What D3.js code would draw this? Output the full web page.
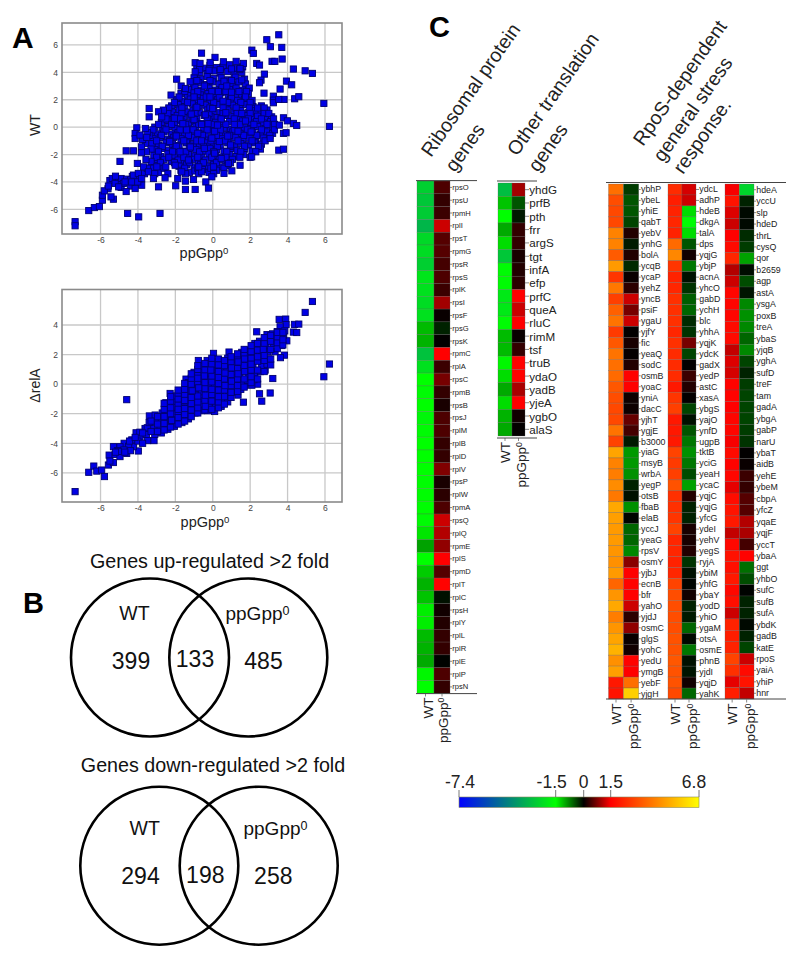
<!DOCTYPE html>
<html><head><meta charset="utf-8">
<script src="https://cdn.jsdelivr.net/npm/d3@7"></script>
<style>html,body{margin:0;padding:0;background:#fff}svg{display:block}text{font-family:"Liberation Sans",Arial,sans-serif}</style>
</head><body><svg id="c" width="800" height="956"></svg>
<script>
// ---------- Panel A scatter data: [ppGpp0, WT] ----------
const wtOutliers=[[-7.36,-6.9],[-7.36,-7.2],[-6.63,-6.09],[-6.33,-5.87],[-6.06,-5.8],[-4.55,-6.3],[-3.96,-6.55],[-2.82,-6.3],[-5.9,-5.33],[-5.9,-4.97],[-5.31,-5.26],[-5.44,-5.09],[-5.8,-4.65],[-5.58,-4.3],[-5.37,-3.75],[-5.2,-3.58],[-5.22,-4.11],[-4.96,-2.5],[-4.63,-1.73],[-4.24,-1.73],[-3.81,-1.44],[-3.81,-1.87],[-4.03,-2.65],[-4.63,-4.7],[-4.78,-4.11],[-4.15,-4.48],[-3.8,-4.24],[-4.24,-3.5],[-3.98,-3.38],[-4.33,-4],[-5.03,-4.36],[-4.69,-4],[-4.01,-4],[-3.8,-3.75],[-3.57,-2.36],[-3.4,1.36],[-3.4,.75],[-4.06,-.05],[-4.15,-.46],[-4.15,-.83],[-3.89,-.58],[-3.6,-.1],[-3.53,-.75],[-3.17,-3.75],[-2.9,-4.36],[-2.55,-3.7],[-1.98,-4.28],[-1.87,-3.75],[-1.46,-3.94],[-1.46,-4.55],[-.94,-4.55],[-1.03,-3.82],[-.37,-4],[-.23,-4.45],[-.05,-3.63],[.6,-3.38],[1.02,-3.19],[1.46,-2.78],[2.08,-2.17],[-3.44,-3.26],[-2.99,-2.9],[-2.51,-2.9],[-2.01,-2.78],[-1.66,-3.26],[-.59,-3.26],[.04,-2.9],[.84,-2.65],[3.53,6.74],[2.89,6.38],[3.08,5.87],[3.69,5.82],[3.71,4.97],[2.09,5.62],[2.17,5.38],[2.35,4.65],[2.5,4.53],[3.17,4.8],[3.32,4.8],[4.31,4.24],[4.94,4.11],[5.33,3.92],[2.76,3.87],[2.58,3.43],[2.5,3.24],[3.94,3.36],[4.22,3.09],[3.6,2.78],[2.74,2.48],[3.24,2.26],[3.24,1.97],[3.24,1.78],[3.81,2.02],[3.53,2.02],[4.38,2.07],[4.6,2.22],[5.94,1.73],[6.24,.05],[3.78,.68],[3.99,.46],[4.31,.27],[4.49,.12],[3.56,.15],[3.78,-.46],[3.92,-.41],[3.53,-1.68],[3.78,-1.61],[3.07,-.83],[-.6,5.4],[.12,5.09],[.57,4.77],[1.25,4.8],[1.64,4.65],[-.94,4.7],[-.68,4.65],[-.14,4.72],[1.46,4.28],[-.94,4.04],[-1.93,3.5],[-1.21,3.31],[-1.69,3],[-1.46,2.82],[-2.23,2.34],[-2.64,1.24],[-2.9,1.12],[-2.73,.75]];
const wtCore=[[-.85,4.45],[-.5,4.3],[-.15,4.5],[.2,4.35],[.55,4.4],[.9,4.55],[1.25,4.3],[1.6,4.4],
[-.7,4],[-.3,3.9],[.05,4.1],[.4,3.95],[.8,4.05],[1.15,3.85],[1.55,4],
[-1,3.6],[-.65,3.5],[-.3,3.7],[.05,3.55],[.45,3.6],[.8,3.45],[1.2,3.65],[1.7,3.5],
[-1.05,3.15],[-.75,3.25],[-.35,3.1],[0,3.3],[.35,3.15],[.7,3.2],[1.05,3.1],[1.4,3.3],[1.75,3.15],
[-1.3,2.75],[-.95,2.9],[-.6,2.7],[-.2,2.85],[.15,2.7],[.5,2.9],[.9,2.75],[1.25,2.85],[1.6,2.7],[1.95,2.85],
[-1.7,2.45],[-1.35,2.3],[-1,2.5],[-.65,2.35],[-.25,2.45],[.1,2.3],[.45,2.5],[.85,2.35],[1.2,2.4],[1.55,2.3],[1.9,2.45],
[-1.95,2],[-1.6,1.9],[-1.2,2.05],[-.85,1.9],[-.5,2.1],[-.15,1.95],[.25,2],[.6,1.85],[.95,2.05],[1.3,1.95],[1.7,2.05],[2.1,1.95],
[-2.2,1.55],[-1.85,1.65],[-1.5,1.5],[-1.1,1.7],[-.75,1.55],[-.4,1.6],[0,1.45],[.35,1.65],[.7,1.55],[1.05,1.6],[1.45,1.5],[1.8,1.65],[2.15,1.5],[2.6,1.55],
[-2.5,1.2],[-2.15,1.1],[-1.8,1.25],[-1.4,1.1],[-1.05,1.2],[-.7,1.05],[-.3,1.25],[.05,1.15],[.4,1.05],[.8,1.25],[1.15,1.1],[1.5,1.2],[1.9,1.05],[2.25,1.2],[2.6,1.1],[2.9,1.25],
[-2.6,.8],[-2.3,.7],[-1.9,.85],[-1.55,.7],[-1.2,.8],[-.85,.65],[-.45,.85],[-.1,.75],[.25,.7],[.65,.85],[1,.75],[1.35,.65],[1.7,.85],[2.05,.7],[2.4,.8],[2.8,.7],[3.15,.75],
[-2.75,.35],[-2.4,.45],[-2.05,.3],[-1.7,.45],[-1.3,.3],[-.95,.4],[-.6,.25],[-.2,.45],[.15,.35],[.5,.25],[.9,.4],[1.25,.3],[1.6,.45],[2,.3],[2.35,.4],[2.7,.3],[3.1,.4],
[-3.1,0],[-2.7,-.1],[-2.35,.05],[-2,-.1],[-1.6,0],[-1.25,-.15],[-.9,.05],[-.5,-.05],[-.15,-.15],[.2,.05],[.6,-.05],[.95,-.15],[1.3,.05],[1.7,-.05],[2.05,-.1],[2.4,.05],[2.8,-.1],[3.2,0],
[-3.3,-.4],[-2.95,-.5],[-2.6,-.35],[-2.2,-.5],[-1.85,-.4],[-1.5,-.55],[-1.1,-.35],[-.75,-.45],[-.4,-.55],[0,-.35],[.35,-.45],[.7,-.55],[1.05,-.35],[1.45,-.45],[1.8,-.55],[2.15,-.4],[2.55,-.5],[2.9,-.35],[3.2,-.45],
[-3.2,-.85],[-2.8,-.75],[-2.45,-.9],[-2.1,-.75],[-1.7,-.85],[-1.35,-.95],[-1,-.75],[-.6,-.85],[-.25,-.95],[.1,-.75],[.5,-.85],[.85,-.95],[1.2,-.75],[1.6,-.9],[1.95,-.8],[2.3,-.95],[2.7,-.8],
[-3.25,-1.2],[-2.9,-1.3],[-2.5,-1.15],[-2.15,-1.25],[-1.8,-1.35],[-1.4,-1.15],[-1.05,-1.25],[-.7,-1.35],[-.3,-1.15],[.05,-1.25],[.4,-1.35],[.8,-1.15],[1.15,-1.3],[1.5,-1.2],[1.9,-1.3],[2.25,-1.15],[2.6,-1.25],
[-3.1,-1.65],[-2.7,-1.55],[-2.35,-1.7],[-2,-1.6],[-1.6,-1.75],[-1.25,-1.55],[-.9,-1.65],[-.5,-1.75],[-.15,-1.55],[.2,-1.65],[.6,-1.75],[.95,-1.55],[1.3,-1.7],[1.7,-1.6],[2.1,-1.75],[2.55,-1.6],
[-3.15,-2.05],[-2.8,-2.15],[-2.4,-1.95],[-2.05,-2.1],[-1.7,-2.2],[-1.3,-2],[-.95,-2.1],[-.6,-2.2],[-.2,-1.95],[.15,-2.1],[.5,-2.2],[.9,-2],[1.25,-2.15],[1.65,-2],
[-2.95,-2.45],[-2.6,-2.35],[-2.2,-2.5],[-1.85,-2.4],[-1.5,-2.55],[-1.1,-2.35],[-.75,-2.5],[-.4,-2.4],[0,-2.55],[.35,-2.35],[.7,-2.45],[1.05,-2.35],
[-3.1,-2.8],[-2.75,-2.9],[-1.8,-2.85],[-1.4,-2.75],[-1,-2.9],[-.65,-2.75],[-.3,-2.85],[.05,-2.75],[.4,-2.9],[.8,-2.8],
[-3.3,-3.2],[-2.9,-3.3],[-1.7,-3.15],[-1.25,-3.3],[-.95,-3.2],[-.55,-3.1],[-.2,-3.3],[.2,-3.15]];
const wtFill=[[-.7,4.2],[-.2,4.15],[.4,4.2],[1,4.25],[1.45,4.2],[-.85,3.4],[-.15,3.4],[.6,3.35],[1,3.4],[1.55,3.45],
[-1.5,2.6],[-.8,2.6],[-.05,2.6],[.7,2.6],[1.4,2.6],[1.8,2.6],[-1.8,2.2],[-1,2.2],[-.35,2.2],[.35,2.2],[1,2.2],[1.75,2.2],
[-2.05,1.8],[-1.35,1.8],[-.65,1.8],[.05,1.8],[.8,1.8],[1.5,1.8],[2,1.8],[-2.35,1.4],[-1.65,1.4],[-.9,1.4],[-.15,1.4],[.55,1.4],[1.25,1.4],[1.95,1.4],[2.4,1.4],[2.75,1.4],
[-2.4,1],[-1.65,1],[-.95,1],[-.2,1],[.55,1],[1.3,1],[2,1],[2.75,1],[3,1],[-2.5,.6],[-1.75,.6],[-1.05,.6],[-.3,.6],[.45,.6],[1.15,.6],[1.9,.6],[2.6,.6],[3.25,.6],
[-2.9,.2],[-2.2,.2],[-1.45,.2],[-.75,.2],[.05,.2],[.7,.2],[1.45,.2],[2.2,.2],[2.9,.2],[3.3,.2],[-3.2,-.2],[-2.5,-.2],[-1.75,-.2],[-1.05,-.2],[-.3,-.2],[.4,-.2],[1.15,-.2],[1.85,-.2],[2.6,-.2],[3.3,-.2],
[-3.4,-.6],[-2.75,-.6],[-2,-.6],[-1.3,-.6],[-.55,-.6],[.2,-.6],[.9,-.6],[1.65,-.6],[2.35,-.6],[3.05,-.6],[-3,-1],[-2.3,-1],[-1.55,-1],[-.85,-1],[-.1,-1],[.65,-1],[1.35,-1],[2.1,-1],[2.8,-1],
[-2.7,-1.4],[-1.95,-1.4],[-1.2,-1.4],[-.5,-1.4],[.25,-1.4],[.95,-1.4],[1.7,-1.4],[2.45,-1.4],[-2.9,-1.8],[-2.15,-1.8],[-1.45,-1.8],[-.7,-1.8],[.05,-1.8],[.75,-1.8],[1.5,-1.8],[2.3,-1.8],
[-3,-2.2],[-2.35,-2.2],[-1.55,-2.2],[-.8,-2.2],[-.05,-2.2],[.7,-2.2],[1.45,-2.2],[2,-2.2],[-2.8,-2.6],[-2.05,-2.6],[-1.25,-2.6],[-.5,-2.6],[.2,-2.6],[.95,-2.6],[-3.3,-3],[-2.6,-3],[-1.5,-3],[-.8,-3],[-.1,-3],[.6,-3],[-3.1,-3.4],[-2.4,-3.4],[-1.45,-3.4],[-.75,-3.4],[.05,-3.4],
[-5.1,-3.9],[-4.9,-3.75],[-4.6,-3.8],[-4.4,-4.3],[-4.3,-3.6],[-4.1,-3.7],[-3.65,-3.4],[-3.5,-3],[-3.7,-2.9],[-5.6,-4.5],[-5.5,-3.9],[-4.9,-4.4],[-4.4,-3.85],[-3.9,-3.95],[-3.6,-1.2],[-3.5,-.4],[-3.75,-.9],[-3.3,-1.6],[-3.55,-1.8],[-3.3,-2.5]];
const wtDark=[[-1.4,-.2],[-1,.55],[-.6,-1],[-.25,.25],[.1,-.3],[.45,.6],[.8,-.65],[1.15,.2],[-.8,-.45],[-.4,.9],[0,1.35],[.35,-1.05],[.7,1.05],[-1.2,-1.45],[-.85,1.45],[-.45,-1.55],[.1,-1.9],[.55,1.9],[.95,-1.3],[1.35,-.3],[-1.6,.25],[-1.95,-.65],[-2.3,-1.05],[-1.15,.95],[-.15,2.2],[.3,2.6],[.75,3],[-.45,3],[1,2.55],[-.05,-.8],[.25,.15],[-.6,.2],[-1.75,-1.8],[-1.3,-2.4],[-.75,-2.9],[.45,-2.3],[1.75,.45],[2.05,-.35],[1.55,1],[-2.05,.65]];

// ---------- Panel A scatter data: [ppGpp0, relA] ----------
const relOutliers=[[-7.36,-7.27],[-6.63,-5.96],[-6.36,-5.54],[-6.2,-5.88],[-5.94,-5.81],[-5.79,-6.25],[-4.6,-1.05],[-5.58,-5.47],[-5.31,-5.3],[-5.54,-4.8],[-5.31,-4.23],[-5.22,-4.75],[-4.96,-4.9],[-4.74,-4],[-4.6,-4.68],[-4.96,-4.23],[-3.98,-4.52],[-4.1,-3.29],[-4.24,-4.23],[-4.33,-3.77],[-3.89,-3.56],[-3.62,-3],[-3.49,-3.82],[-3.14,-3.82],[-3.39,-2.15],[-3.08,-2.09],[-2.28,-.63],[-2.51,-1.26],[-1.43,.34],[-.77,1.6],[.04,2.08],[.87,2.17],[2.35,3.54],[4.94,4.85],[5.33,5.59],[3.55,4.38],[3.9,4.4],[4.31,3.52],[4.37,4.04],[4.6,4.06],[4.49,3.49],[3.92,4.03],[3.6,3.88],[6.24,1.36],[5.94,.5],[3.21,.38],[3.07,-.6],[2.62,-1.15],[2.5,-.65],[1.64,-1.22],[1.35,-.74],[3.83,1.96],[3.62,1.79],[3.69,2.61],[3.96,2.93],[3.78,3.31],[3.33,2.19],[2.98,1.7],[2.8,.95],[2.4,0],[2.09,-.07],[1.73,-.07],[1.02,-.52]];
const relCore=[[-4.5,-4.2],[-4.45,-3.85],[-4,-3.85],[-3.9,-3.25],[-3.55,-3.4],[-3.5,-2.95],[-3.4,-2.6],
[-3.1,-3.4],[-3.15,-3],[-3.05,-2.55],[-2.75,-3.3],[-2.8,-2.85],[-2.75,-2.4],[-2.7,-1.95],[-2.4,-3.05],[-2.45,-2.65],[-2.35,-2.2],[-2.4,-1.8],[-2.45,-1.4],
[-2.05,-2.85],[-2,-2.4],[-2.1,-2],[-2,-1.55],[-2.05,-1.15],[-1.95,-.8],[-1.65,-2.6],[-1.7,-2.2],[-1.6,-1.8],[-1.65,-1.35],[-1.7,-.95],[-1.6,-.5],[-1.3,-2.35],[-1.35,-1.95],[-1.25,-1.5],[-1.3,-1.1],[-1.35,-.65],[-1.25,-.25],[-1.3,.1],
[-.95,-1.95],[-1,-1.5],[-.9,-1.1],[-.95,-.7],[-1,-.25],[-.9,.2],[-.95,.6],[-1,.8],[-.6,-1.8],[-.55,-1.35],[-.65,-.95],[-.6,-.5],[-.55,-.1],[-.65,.35],[-.6,.8],[-.5,1.2],
[-.25,-1.8],[-.2,-1.4],[-.3,-.95],[-.2,-.55],[-.25,-.1],[-.3,.3],[-.2,.75],[-.25,1.2],[-.3,1.6],[.1,-1.85],[.15,-1.4],[.05,-1],[.15,-.6],[.1,-.15],[.05,.3],[.15,.7],[.1,1.15],[.05,1.55],
[.45,-1.5],[.5,-1.05],[.4,-.65],[.5,-.2],[.45,.2],[.4,.65],[.5,1.1],[.45,1.5],[.8,-1.2],[.85,-.8],[.75,-.35],[.85,.05],[.8,.5],[.75,.95],[.85,1.35],[.8,1.75],
[1.15,-.4],[1.2,0],[1.1,.45],[1.2,.85],[1.15,1.3],[1.1,1.7],[1.5,-.35],[1.55,.05],[1.45,.5],[1.55,.9],[1.5,1.35],[1.45,1.75],[1.55,2.15],
[1.85,.25],[1.9,.65],[1.8,1.1],[1.9,1.5],[1.85,1.95],[1.8,2.3],[2.2,.3],[2.25,.75],[2.15,1.15],[2.25,1.6],[2.2,2],[2.15,2.45],[2.25,2.75],
[2.55,.85],[2.6,1.25],[2.5,1.7],[2.6,2.1],[2.55,2.55],[2.5,2.9],[2.9,1.35],[2.95,2.2],[2.85,2.6],[2.95,3],[2.9,3.35],[3.25,2.75],[3.3,3.1],[3.2,3.4],[3.6,2.95],[3.65,3.35],[3.45,3.55],[3.85,3.6]];
const relFill=[[-3.3,-3.2],[-3.3,-2.5],[-2.95,-3.2],[-2.95,-2.7],[-2.95,-2.2],[-2.6,-3.1],[-2.6,-2.65],[-2.6,-2.2],[-2.6,-1.7],[-2.6,-1.3],[-2.25,-2.9],[-2.25,-2.5],[-2.25,-2],[-2.25,-1.6],[-2.25,-1.15],[-2.25,-.85],
[-1.85,-2.7],[-1.85,-2.25],[-1.85,-1.85],[-1.85,-1.4],[-1.85,-1],[-1.85,-.6],[-1.85,-.4],[-1.5,-2.5],[-1.5,-2.05],[-1.5,-1.65],[-1.5,-1.2],[-1.5,-.75],[-1.5,-.35],[-1.5,.05],[-1.15,-2.2],[-1.15,-1.75],[-1.15,-1.3],[-1.15,-.9],[-1.15,-.45],[-1.15,0],[-1.15,.4],[-1.15,.7],
[-.8,-1.95],[-.8,-1.6],[-.8,-1.2],[-.8,-.8],[-.8,-.1],[-.8,.15],[-.8,.6],[-.8,1],[-.8,1.25],[-.42,-1.75],[-.42,-1.1],[-.42,-.3],[-.42,.1],[-.42,.95],[-.42,1.4],[-.05,-1.7],[-.05,-1.15],[-.05,-.7],[-.05,.15],[-.05,.55],[-.05,1],[-.05,1.35],[-.05,1.75],
[.3,-1.6],[.3,-1.2],[.3,-.4],[.3,.05],[.3,.85],[.3,1.7],[.62,-1.35],[.62,-.85],[.62,-.4],[.62,.35],[.62,1.25],[.62,1.6],[.98,-.9],[.98,-.55],[.98,-.1],[.98,.65],[.98,1.5],[.98,1.85],[1.33,-.5],[1.33,-.1],[1.33,.35],[1.33,1.05],[1.33,1.85],[1.33,2.05],
[1.68,-.2],[1.68,.35],[1.68,1.25],[1.68,2],[1.68,2.35],[2.05,.1],[2.05,.5],[2.05,.95],[2.05,1.75],[2.05,2.2],[2.05,2.6],[2.4,.35],[2.4,.95],[2.4,1.55],[2.4,2.3],[2.4,2.75],[2.75,.85],[2.75,1.6],[2.75,1.95],[2.75,2.75],[2.75,3.15],
[3.1,1.3],[3.1,1.7],[3.1,2.35],[3.1,2.9],[3.1,3.3],[3.45,2.4],[3.45,2.8],[3.45,3.2],[3.45,3.5],[3.75,2.65],[3.75,3],[3.75,3.5],
[-5.1,-4.5],[-4.75,-4.45],[-4.4,-4.5],[-4.7,-4.6],[-4.15,-3.6],[-3.75,-4],[-3.75,-3.3],[-5.05,-4.55],[-5.5,-5.2],[-5.2,-4.6]];
const relDark=[[-1.5,-1.1],[-1.1,-.45],[-.75,-.25],[-.4,-.75],[-.45,.55],[-.05,-.35],[.3,-.85],[.3,.45],[.65,-.1],[.65,.75],[1,.2],[1,1.1],[1.35,.7],[1.35,1.5],[1.7,.85],[1.7,1.7],[2.05,1.35],[2.4,1.85],[-.1,.95],[-.8,.4],[-2.2,-2.45],[-2.6,-2.2],[-1.85,-1.7],[2.7,2.35],[.3,1.3],[-.4,-1.5]];

// ---------- Panel B ----------
const vennTitles=["Genes up-regulated >2 fold","Genes down-regulated >2 fold"];
const vennCounts=[[399,133,485],[294,198,258]];

// ---------- Panel C gene lists and log2 ratios ----------
const riboGenes=["rpsO","rpsU","rpmH","rplI","rpsT","rpmG","rpsR","rpsS","rplK","rpsI","rpsF","rpsG","rpsK","rpmC","rplA","rpsC","rpmB","rpsB","rpsJ","rplM","rplB","rplD","rplV","rpsP","rplW","rpmA","rpsQ","rplQ","rpmE","rplS","rpmD","rplT","rplC","rpsH","rplY","rplL","rplR","rplE","rplP","rpsN"];
const riboWT=[-2.6,-2.8,-2.7,-3.2,-2.4,-2.3,-2.6,-2.1,-2.2,-2.3,-2.2,-1.1,-1.05,-2.9,-2.2,-1.5,-1.6,-1.5,-1.7,-1.6,-1.5,-1.5,-1.5,-1.55,-1.55,-1.55,-1.6,-1.35,-.95,-1.5,-1.2,-1.05,-1.15,-1.4,-1.4,-1.1,-1.05,-1,-1.45,-1.5];
const riboPp=[.45,.3,.35,1.2,.5,.5,.4,.45,.35,.95,.05,-.2,.02,1.5,.35,.7,.3,.15,.45,.45,.3,.3,.75,.15,.25,.45,1.2,1.05,.85,1.5,.5,1.55,-.1,.1,.2,.3,.3,-.02,.45,.3];
const transGenes=["yhdG","prfB","pth","frr","argS","tgt","infA","efp","prfC","queA","rluC","rimM","tsf","truB","ydaO","yadB","yjeA","ygbO","alaS"];
const transWT=[-3,-1.15,-1.5,-1,-1.3,-2.8,-1.6,-1.6,-2,-2,-1.6,-1.1,-1.1,-1.45,-1.3,-1,-1.3,-1.05,-1];
const transPp=[.95,-.5,-.15,.3,.3,.15,.2,.25,1.5,1.2,1.5,.05,.3,1.55,1.55,1,1.5,.1,.02];
const rpoS1Genes=["ybhP","ybeL","yhiE","qabT","yebV","ynhG","bolA","ycqB","ycaP","yehZ","yncB","psiF","ygaU","yjfY","fic","yeaQ","sodC","osmB","yoaC","yniA","dacC","yjhT","ygjE","b3000","yiaG","msyB","wrbA","yegP","otsB","fbaB","elaB","yccJ","yeaG","rpsV","osmY","yjbJ","ecnB","bfr","yahO","yjdJ","osmC","glgS","yohC","yedU","ymgB","yebF","yjgH"];
const rpoS1WT=[3.8,3.1,3,3,4.2,4.2,3.4,4.7,2.6,4,2.8,3.5,3.9,2.7,3.3,3.9,3.8,3.7,3.3,3.1,3,3,3.9,2.9,4.9,4.2,4.1,4.4,4,5,4.8,4.7,4.7,4.6,4.5,4.7,3.6,4.6,5,4.1,4.6,4.9,5.2,4.5,4.8,2,1.9];
const rpoS1Pp=[-.35,-.5,-.5,-.4,.2,-.15,.2,-.25,.05,.25,1.2,.7,1.2,.02,.15,.03,.2,1.55,1.5,.08,.08,.6,.4,-.15,-.9,-.9,-.85,-.2,-.1,-.85,-.02,-.6,-.6,-.8,.8,1.5,1.55,1.5,1.2,.25,.85,.05,.1,1.55,1.5,3.8,5.8];
const rpoS2Genes=["ydcL","adhP","hdeB","dkgA","talA","dps","yqjG","ybjP","acnA","yhcO","gabD","ychH","blc","yhhA","yqjK","ydcK","gadX","yedP","astC","xasA","ybgS","yajO","ynfD","ugpB","tktB","yciG","yeaH","ycaC","yqjC","yqjG","yfcG","ydeI","yehV","yegS","ryjA","ybiM","yhfG","ybaY","yodD","yhiO","ygaM","otsA","osmE","phnB","yjdI","yqjD","yahK"];
const rpoS2WT=[2.4,2.1,2.2,2.3,2.2,3.7,4.3,2.6,2.2,2.3,2.5,2.5,2.5,2.3,2.5,2.4,2.4,2.4,2,2.6,2.8,2,2,2,2.9,2.7,2.8,3.2,2.5,2.5,2.6,2.9,2.3,2.3,2.2,2.3,2.9,3.1,3.1,3.1,3.1,3.2,3.2,3.3,3.2,3.2,3];
const rpoS2Pp=[1.25,1.2,-1.3,-1.55,-1.3,-.5,.1,-.7,-.1,-.3,-.55,-.6,-.25,-.3,.7,-.4,.02,.35,.2,.02,-.4,-.1,-.5,-.7,-.85,-.7,-.45,-.95,.2,-.2,-.2,.15,.15,.2,-.3,-.1,-.03,.1,-.2,-.15,-.6,-.05,-.7,-.1,-.12,.1,-.6];
const rpoS3Genes=["hdeA","yccU","slp","hdeD","thrL","cysQ","qor","b2659","agp","astA","ysgA","poxB","treA","ybaS","yjqB","yghA","sufD","treF","tam","gadA","ybgA","gabP","narU","ybaT","aidB","yehE","ybeM","cbpA","yfcZ","yqaE","yqjF","yccT","ybaA","ggt","yhbO","sufC","sufB","sufA","ybdK","gadB","katE","rpoS","yaiA","yhiP","hnr"];
const rpoS3WT=[1.45,1.9,1.3,1.2,1.5,1.7,2.3,1.05,1.2,1.6,1.6,1.6,1.7,1.7,1.15,1.3,1.25,1.55,1.55,1.5,1.6,1.6,1.45,1.7,1.55,1.6,1.35,1.75,1.9,2,1.15,1.65,1.85,1.8,2,1.65,1.8,1.2,2.2,2.1,2.2,2.9,2.5,1.35,2.1];
const rpoS3Pp=[-2.5,-.2,-.05,-.05,-.25,-.35,-.95,-.07,-.45,-.12,-.8,-.85,-.8,-.6,-.8,-.4,-.2,-.35,-.4,-.4,-.4,-.35,-.3,.01,.05,.35,.3,.5,.5,1.05,1,.4,1.55,-.65,-.45,-.02,-.2,-.2,-.05,-.2,-.4,1.2,1.7,1.9,1.15];
const groupTitles=[["Ribosomal protein","genes"],["Other translation","genes"],["RpoS-dependent","general stress","response."]];
const colorStops=[-7.4,-1.5,0,1.5,6.8];
const colorRange=["#0000ff","#00ff00","#000000","#ff0000","#ffff00"];
const legendTicks=[-7.4,-1.5,0,1.5,6.8];
const legendShift=[1,-4,0,0,-5];
const xTickVals=[-6,-4,-2,0,2,4,6];
const wtTickVals=[-6,-4,-2,0,2,4,6];
const relTickVals=[-6,-4,-2,0,2,4];

const svg=d3.select("#c");
const FONT='"Liberation Sans",Arial,sans-serif';
function sup(sel,base){
  sel.append("tspan").text(base);
  sel.append("tspan").attr("dy","-0.42em").attr("font-size","66%").text("0");
}

// ---- scatter ----
function scatter(o){
  const x=d3.scaleLinear().domain([-8.06,6.91]).range([62,342]);
  const y=d3.scaleLinear().domain(o.yd).range([o.b,o.t]);
  const g=svg.append("g");
  g.append("rect").attr("x",62).attr("y",o.t).attr("width",280).attr("height",o.b-o.t).attr("fill","#fff");
  g.selectAll(".gx").data(xTickVals).join("line").attr("x1",d=>x(d)).attr("x2",d=>x(d)).attr("y1",o.t).attr("y2",o.b).attr("stroke","#c8c8c8").attr("stroke-width",1.3);
  g.selectAll(".gy").data(o.ticks).join("line").attr("y1",d=>y(d)).attr("y2",d=>y(d)).attr("x1",62).attr("x2",342).attr("stroke","#c8c8c8").attr("stroke-width",1.3);
  const s=6.2;
  g.selectAll(".p").data(o.pts).join("rect").attr("x",d=>x(d[0])-s/2).attr("y",d=>y(d[1])-s/2).attr("width",s).attr("height",s)
    .attr("fill","#0000e6").attr("stroke","#000070").attr("stroke-width",.9);
  g.append("rect").attr("x",62).attr("y",o.t).attr("width",280).attr("height",o.b-o.t).attr("fill","none").attr("stroke","#8a8a8a").attr("stroke-width",1.6);
  const ax=g.append("g").attr("transform",`translate(0,${o.b})`).call(d3.axisBottom(x).tickValues(xTickVals).tickSize(0).tickPadding(3).tickFormat(d3.format("d")));
  const ay=g.append("g").attr("transform","translate(62,0)").call(d3.axisLeft(y).tickValues(o.ticks).tickSize(0).tickPadding(4).tickFormat(d3.format("d")));
  [ax,ay].forEach(a=>{a.select(".domain").remove();a.selectAll("text").text(d=>d<0?"-"+(-d):d).attr("font-size",8.5).attr("font-family",FONT).attr("fill","#444");});
  sup(g.append("text").attr("x",o.xlx).attr("y",o.xly).attr("text-anchor","middle").attr("font-size",14.5).attr("fill","#222"),"ppGpp");
  g.append("text").attr("transform",`translate(${o.ylx},${o.yly}) rotate(-90)`).attr("text-anchor","middle").attr("font-size",14).attr("fill","#222").text(o.yl);
}
scatter({t:23,b:234,yd:[-7.8,7.6],ticks:wtTickVals,pts:[...wtCore,...wtFill,...wtOutliers,...wtDark],xlx:204,xly:258,ylx:40,yly:125,yl:"WT"});
scatter({t:289.5,b:502,yd:[-7.97,6.4],ticks:relTickVals,pts:[...relOutliers,...relCore,...relFill,...relDark],xlx:205,xly:527,ylx:40,yly:385.5,yl:"\u0394relA"});

// ---- letters ----
[["A",12,48,30],["B",23,613,29],["C",429,37,29]].forEach(d=>svg.append("text").attr("x",d[1]).attr("y",d[2]).attr("font-size",d[3]).attr("font-weight","bold").attr("fill","#000").text(d[0]));

// ---- Venn ----
function venn(i,cx1,cx2,cy,ty,tx,pos){
  const g=svg.append("g");
  g.selectAll("circle").data([cx1,cx2]).join("circle").attr("cx",d=>d).attr("cy",cy).attr("r",79).attr("fill","none").attr("stroke","#000").attr("stroke-width",2.6);
  g.append("text").attr("x",tx).attr("y",ty).attr("text-anchor","middle").attr("font-size",19.7).attr("fill","#111").text(vennTitles[i]);
  g.append("text").attr("x",pos.wt[0]).attr("y",pos.wt[1]).attr("text-anchor","middle").attr("font-size",19.5).attr("fill","#111").text("WT");
  sup(g.append("text").attr("x",pos.pp[0]).attr("y",pos.pp[1]).attr("text-anchor","middle").attr("font-size",19).attr("fill","#111"),"ppGpp");
  g.selectAll(".n").data(vennCounts[i]).join("text").attr("x",(d,k)=>pos.n[k][0]).attr("y",(d,k)=>pos.n[k][1]).attr("text-anchor","middle").attr("font-size",23).attr("fill","#111").text(d=>d);
}
venn(0,150,248.3,657.5,567.5,209.5,{wt:[134.5,620],pp:[257.5,620],n:[[131,669],[195,667],[263.5,669]]});
venn(1,159.3,258.7,865.7,772,213,{wt:[144.7,835],pp:[275.5,835],n:[[140.5,884],[205.3,882.7],[273.3,884]]});

// ---- heatmap ----
const color=d3.scaleLinear().domain(colorStops).range(colorRange).interpolate(d3.interpolateRgb).clamp(true);
function heat(o){
  const rows=d3.range(o.genes.length);
  const rh=(o.bottom-o.top)/o.genes.length;
  const g=svg.append("g");
  [[o.x0,o.x1,o.wt],[o.x1,o.x2,o.pp]].forEach(([a,b,vals])=>{
    g.selectAll(null).data(rows).join("rect").attr("x",a).attr("width",b-a).attr("y",i=>o.top+i*rh).attr("height",rh)
      .attr("fill",i=>color(vals[i])).attr("stroke","#5c5c5c").attr("stroke-opacity",.55).attr("stroke-width",.5);
  });
  g.selectAll(null).data(rows).join("line").attr("x1",o.x2).attr("x2",o.x2+o.tick).attr("y1",i=>o.top+(i+.5)*rh).attr("y2",i=>o.top+(i+.5)*rh).attr("stroke","#555").attr("stroke-width",.7);
  g.selectAll(null).data(rows).join("text").attr("x",o.x2+o.tick+.3).attr("y",i=>o.top+(i+.5)*rh).attr("dominant-baseline","central").attr("font-size",o.fs).attr("fill","#222").text(i=>o.genes[i]);
  const ly=o.labelY;
  [(o.x0+o.x1)/2,(o.x1+o.x2)/2].forEach(cx=>g.append("line").attr("x1",cx).attr("x2",cx).attr("y1",ly-3).attr("y2",ly).attr("stroke","#555").attr("stroke-width",.7));
  g.append("text").attr("transform",`translate(${o.lx[0]},${ly+1}) rotate(-90)`).attr("text-anchor","end").attr("font-size",13.5).attr("fill","#222").text("WT");
  const t=g.append("text").attr("transform",`translate(${o.lx[1]},${ly+1}) rotate(-90)`).attr("text-anchor","end").attr("font-size",13.5).attr("fill","#222");
  sup(t,"ppGpp");
}
heat({genes:riboGenes,wt:riboWT,pp:riboPp,x0:417,x1:434,x2:450,top:181,bottom:693.3,tick:2,fs:7.6,labelY:696.5,lx:[433,447.5]});
heat({genes:transGenes,wt:transWT,pp:transPp,x0:498,x1:512,x2:525,top:183,bottom:436,tick:4,fs:11.6,labelY:441,lx:[510,525.5]});
heat({genes:rpoS1Genes,wt:rpoS1WT,pp:rpoS1Pp,x0:608.5,x1:623.5,x2:638.7,top:184,bottom:699,tick:2,fs:8.8,labelY:702.5,lx:[620.7,637.5]});
heat({genes:rpoS2Genes,wt:rpoS2WT,pp:rpoS2Pp,x0:668,x1:682,x2:696,top:184,bottom:699,tick:3,fs:8.8,labelY:702.5,lx:[680.3,696.7]});
heat({genes:rpoS3Genes,wt:rpoS3WT,pp:rpoS3Pp,x0:725,x1:739.3,x2:754,top:184,bottom:699,tick:2,fs:8.8,labelY:702.5,lx:[737.3,754.5]});
[[416,477,180.6],[416,477,693.6],[497,537,181],[497,537,438],[606,786,182.5],[606,786,699]].forEach(d=>svg.append("line").attr("x1",d[0]).attr("x2",d[1]).attr("y1",d[2]).attr("y2",d[2]).attr("stroke","#444").attr("stroke-width",1));

// ---- group titles ----
const titleAnchors=[[[431,158],[455,173]],[[517,157],[538,173]],[[643,147],[663,163],[683,175]]];
groupTitles.forEach((lines,i)=>lines.forEach((l,j)=>{
  const p=titleAnchors[i][j];
  svg.append("text").attr("transform",`translate(${p[0]},${p[1]}) rotate(-55)`).attr("font-size",19.5).attr("fill","#222").text(l);
}));

// ---- colour legend ----
const lx=d3.scaleLinear().domain(colorStops).range([459,555.7,583.7,610.7,699]);
const grad=svg.append("defs").append("linearGradient").attr("id","lg").attr("x1","0").attr("x2","1").attr("y1","0").attr("y2","0");
grad.selectAll("stop").data(colorStops).join("stop").attr("offset",d=>(lx(d)-459)/240).attr("stop-color",d=>color(d));
svg.append("rect").attr("x",459).attr("y",797).attr("width",240).attr("height",10.5).attr("fill","url(#lg)").attr("stroke","#8a8a60").attr("stroke-width",.6);
svg.selectAll(".lt").data(legendTicks).join("line").attr("x1",d=>lx(d)).attr("x2",d=>lx(d)).attr("y1",790).attr("y2",797).attr("stroke","#555").attr("stroke-width",.8);
svg.selectAll(".ll").data(legendTicks).join("text").attr("x",(d,i)=>lx(d)+legendShift[i]).attr("y",788).attr("text-anchor","middle").attr("font-size",17.5).attr("fill","#222").text(d=>d);
</script></body></html>
